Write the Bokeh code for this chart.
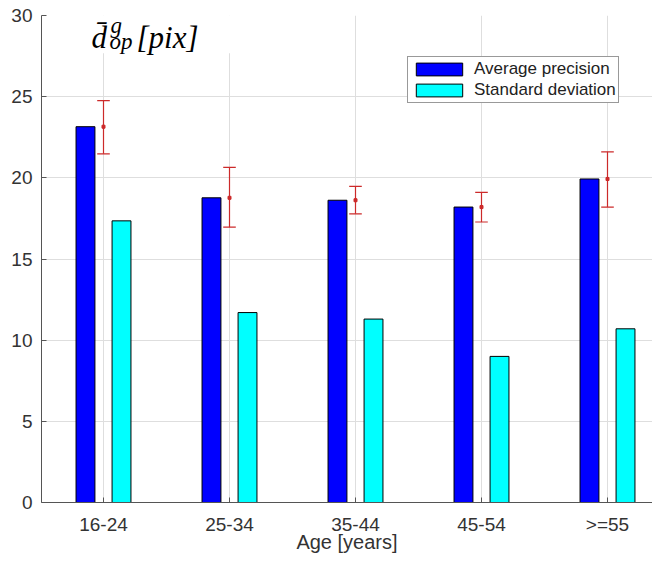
import numpy as np
from bokeh.plotting import figure
from bokeh.models import (Range1d, FixedTicker, Label, BoxAnnotation)
from bokeh.embed import file_html
from bokeh.resources import INLINE

# ---- data ----
categories = ["16-24", "25-34", "35-44", "45-54", ">=55"]
avg_precision = [23.15, 18.77, 18.62, 18.2, 19.93]
std_deviation = [17.35, 11.7, 11.3, 9.0, 10.7]
err_low = [21.48, 16.96, 17.78, 17.28, 18.2]
err_high = [24.76, 20.64, 19.47, 19.11, 21.6]
y_ticks = [0, 5, 10, 15, 20, 25, 30]

# ---- layout constants ----
W, H = 652, 555
BL, BR, BT, BB = 41, 0, 15, 50
FW = W - BL - BR
FH = H - BT - BB
PXU = 126.0
X0 = 1 - (103 - BL) / PXU
X1 = X0 + FW / PXU
Y0, Y1 = 0, 30

def fx(px):
    return X0 + (px - BL) * (X1 - X0) / FW

def fy(py):
    return Y1 - (py - BT) * (Y1 - Y0) / FH

xs = np.arange(1, len(categories) + 1)
off = 0.143
bw = 0.15

p = figure(width=W, height=H, output_backend="svg", toolbar_location=None,
           x_range=Range1d(X0, X1), y_range=Range1d(Y0, Y1),
           min_border_left=BL, min_border_right=BR, min_border_top=BT,
           min_border_bottom=BB)
p.outline_line_color = None
p.background_fill_color = "white"

# grid
p.xgrid.ticker = FixedTicker(ticks=list(xs))
p.ygrid.ticker = FixedTicker(ticks=y_ticks)
for g in (p.xgrid, p.ygrid):
    g.grid_line_color = "#dedede"
    g.grid_line_width = 1

# axes
for ax in (p.xaxis, p.yaxis):
    ax.axis_line_color = "#555555"
    ax.major_tick_line_color = "#555555"
    ax.major_tick_in = 5
    ax.major_tick_out = 0
    ax.minor_tick_line_color = None
    ax.major_label_text_font = "Liberation Sans"
    ax.major_label_text_font_size = "19px"
    ax.major_label_text_color = "#333333"
    ax.axis_label_text_font = "Liberation Sans"
    ax.axis_label_text_font_size = "20px"
    ax.axis_label_text_color = "#333333"
    ax.axis_label_text_font_style = "normal"

p.xaxis.ticker = FixedTicker(ticks=list(xs))
p.xaxis.major_label_overrides = {int(x): c for x, c in zip(xs, categories)}
p.xaxis.major_label_standoff = 11
p.xaxis.axis_label = "Age [years]"
p.xaxis.axis_label_standoff = -7
p.yaxis.ticker = FixedTicker(ticks=y_ticks)
p.yaxis.major_label_standoff = 9

# bars
p.vbar(x=xs - off, top=avg_precision, width=bw, fill_color="#0000ff",
       line_color="#000000", line_width=1, legend_label="Average precision")
p.vbar(x=xs + off, top=std_deviation, width=bw, fill_color="#00ffff",
       line_color="#000000", line_width=1, legend_label="Standard deviation")

# error bars
ecol = "#cc2a2a"
cap = 0.05
p.segment(x0=xs, y0=err_low, x1=xs, y1=err_high, line_color=ecol, line_width=1.2)
p.segment(x0=xs - cap, y0=err_low, x1=xs + cap, y1=err_low, line_color=ecol, line_width=1.2)
p.segment(x0=xs - cap, y0=err_high, x1=xs + cap, y1=err_high, line_color=ecol, line_width=1.2)
p.scatter(x=xs, y=avg_precision, size=3, color=ecol, marker="square")

# legend
lg = p.legend[0]
lg.location = (407 - BL, H - BB - 106)
lg.border_line_color = "#333333"
lg.border_line_width = 1
lg.background_fill_color = "white"
lg.background_fill_alpha = 1
lg.label_text_font = "Liberation Sans"
lg.label_text_font_size = "17px"
lg.label_text_color = "#222222"
lg.glyph_width = 58
lg.glyph_height = 16
lg.label_height = 16
lg.label_standoff = 6
lg.padding = 2
lg.spacing = 1
lg.margin = 0

# white box behind the formula label
p.add_layout(BoxAnnotation(left=fx(63), right=fx(234), bottom=fy(53), top=fy(0),
                           fill_color="white", fill_alpha=1, line_color=None))

serif = "Liberation Serif"
pieces = [
    ("d\u0304", 91, 37, "31px"),
    ("g", 110, 25, "23px"),
    ("op", 109, 41, "23px"),
    ("[pix]", 136, 37, "31px"),
]
for t, px, py, fs in pieces:
    p.add_layout(Label(x=fx(px), y=fy(py), text=t, text_font=serif,
                       text_font_style="italic", text_font_size=fs,
                       text_color="black", text_baseline="alphabetic",
                       text_align="left"))

open("out.html", "w").write(file_html(p, INLINE))
